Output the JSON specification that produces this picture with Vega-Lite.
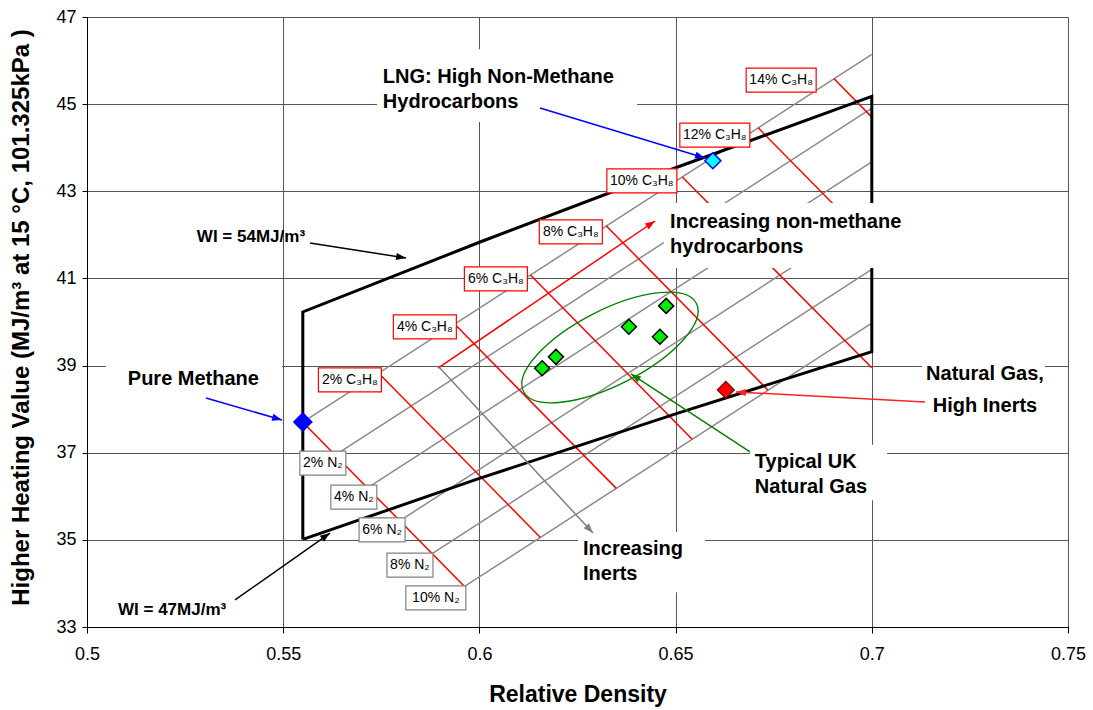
{
  "$schema": "https://vega.github.io/schema/vega-lite/v6.json",
  "width": 981,
  "height": 610,
  "autosize": {"type": "none"},
  "padding": {"left": 87, "top": 17, "right": 25, "bottom": 83},
  "background": "white",
  "config": {"view": {"stroke": null}, "font": "Liberation Sans"},
  "datasets": {
    "nLines": [
      {"series": "0% N2", "x": 0.555, "y": 37.7}, {"series": "0% N2", "x": 0.7, "y": 46.142},
      {"series": "2% N2", "x": 0.56324, "y": 36.946}, {"series": "2% N2", "x": 0.7, "y": 44.908},
      {"series": "4% N2", "x": 0.57148, "y": 36.192}, {"series": "4% N2", "x": 0.7, "y": 43.675},
      {"series": "6% N2", "x": 0.57972, "y": 35.438}, {"series": "6% N2", "x": 0.7, "y": 42.441},
      {"series": "8% N2", "x": 0.58796, "y": 34.684}, {"series": "8% N2", "x": 0.7, "y": 41.207},
      {"series": "10% N2", "x": 0.5962, "y": 33.93}, {"series": "10% N2", "x": 0.7, "y": 39.973}
    ],
    "pLines": [
      {"series": "0% C3H8", "x": 0.555, "y": 37.7}, {"series": "0% C3H8", "x": 0.5962, "y": 33.93},
      {"series": "2% C3H8", "x": 0.57434, "y": 38.826}, {"series": "2% C3H8", "x": 0.61554, "y": 35.056},
      {"series": "4% C3H8", "x": 0.59368, "y": 39.952}, {"series": "4% C3H8", "x": 0.63488, "y": 36.182},
      {"series": "6% C3H8", "x": 0.61302, "y": 41.078}, {"series": "6% C3H8", "x": 0.65422, "y": 37.308},
      {"series": "8% C3H8", "x": 0.63236, "y": 42.204}, {"series": "8% C3H8", "x": 0.67356, "y": 38.434},
      {"series": "10% C3H8", "x": 0.6517, "y": 43.33}, {"series": "10% C3H8", "x": 0.7, "y": 38.95},
      {"series": "12% C3H8", "x": 0.67104, "y": 44.456}, {"series": "12% C3H8", "x": 0.7, "y": 41.806},
      {"series": "14% C3H8", "x": 0.69038, "y": 45.582}, {"series": "14% C3H8", "x": 0.7, "y": 44.702}
    ],
    "boundary": [
      {"order": 1, "x": 0.555, "y": 35.01},
      {"order": 2, "x": 0.555, "y": 40.23},
      {"order": 3, "x": 0.6, "y": 41.83},
      {"order": 4, "x": 0.65, "y": 43.54},
      {"order": 5, "x": 0.7, "y": 45.18},
      {"order": 6, "x": 0.7, "y": 39.32},
      {"order": 7, "x": 0.65, "y": 37.89},
      {"order": 8, "x": 0.6, "y": 36.41},
      {"order": 9, "x": 0.555, "y": 35.01}
    ],
    "ellipse": [{"x": 0.63328, "y": 39.415}],
    "boxes": [
      {"box": "lng", "x": 0.5739, "x2": 0.6402, "y": 46.26, "y2": 44.59},
      {"box": "nmhc", "x": 0.647, "x2": 0.7085, "y": 42.73, "y2": 41.24},
      {"box": "inerts", "x": 0.6251, "x2": 0.6575, "y": 35.18, "y2": 33.8},
      {"box": "uk", "x": 0.669, "x2": 0.7039, "y": 37.18, "y2": 35.91},
      {"box": "highinerts", "x": 0.7128, "x2": 0.7441, "y": 39.36, "y2": 37.57},
      {"box": "methane", "x": 0.5048, "x2": 0.5497, "y": 39.17, "y2": 38.32}
    ],
    "arrows": [
      {"arrow": "lng", "x": 0.61544, "y": 44.912, "x2": 0.65749, "y2": 43.764},
      {"arrow": "methane", "x": 0.53033, "y": 38.256, "x2": 0.54969, "y2": 37.751},
      {"arrow": "wi54", "x": 0.55683, "y": 41.813, "x2": 0.5813, "y2": 41.469},
      {"arrow": "wi47", "x": 0.53772, "y": 33.62, "x2": 0.56193, "y2": 35.157},
      {"arrow": "nmhc", "x": 0.58945, "y": 38.944, "x2": 0.64475, "y2": 42.318},
      {"arrow": "inerts", "x": 0.5897, "y": 38.967, "x2": 0.62895, "y2": 35.157},
      {"arrow": "uk", "x": 0.66896, "y": 37.017, "x2": 0.63863, "y2": 38.807},
      {"arrow": "highinerts", "x": 0.71356, "y": 38.164, "x2": 0.66539, "y2": 38.394}
    ],
    "points": [
      {"kind": "methane", "name": "Pure Methane", "x": 0.555, "y": 37.705},
      {"kind": "lng", "name": "LNG", "x": 0.6595, "y": 43.7},
      {"kind": "highinerts", "name": "Natural Gas, High Inerts", "x": 0.6628, "y": 38.44},
      {"kind": "uk", "name": "UK gas 1", "x": 0.616, "y": 38.94},
      {"kind": "uk", "name": "UK gas 2", "x": 0.6195, "y": 39.2},
      {"kind": "uk", "name": "UK gas 3", "x": 0.6381, "y": 39.89},
      {"kind": "uk", "name": "UK gas 4", "x": 0.646, "y": 39.66},
      {"kind": "uk", "name": "UK gas 5", "x": 0.6476, "y": 40.37}
    ],
    "pLabels": [
      {"pct": 2, "label": "2% C₃H₈", "x": 0.567, "y": 38.67},
      {"pct": 4, "label": "4% C₃H₈", "x": 0.5861, "y": 39.89},
      {"pct": 6, "label": "6% C₃H₈", "x": 0.6042, "y": 40.99},
      {"pct": 8, "label": "8% C₃H₈", "x": 0.6233, "y": 42.07},
      {"pct": 10, "label": "10% C₃H₈", "x": 0.6414, "y": 43.24},
      {"pct": 12, "label": "12% C₃H₈", "x": 0.66, "y": 44.29},
      {"pct": 14, "label": "14% C₃H₈", "x": 0.6769, "y": 45.55}
    ],
    "nLabels": [
      {"pct": 2, "label": "2% N₂", "x": 0.5601, "y": 36.76},
      {"pct": 4, "label": "4% N₂", "x": 0.568, "y": 35.98},
      {"pct": 6, "label": "6% N₂", "x": 0.5752, "y": 35.23},
      {"pct": 8, "label": "8% N₂", "x": 0.5823, "y": 34.42},
      {"pct": 10, "label": "10% N₂", "x": 0.5889, "y": 33.67}
    ],
    "notes": [
      {"text": "LNG: High Non-Methane\nHydrocarbons", "x": 0.5754, "y": 45.486},
      {"text": "Increasing non-methane\nhydrocarbons", "x": 0.6486, "y": 42.158},
      {"text": "Increasing\nInerts", "x": 0.6264, "y": 34.653},
      {"text": "Typical UK\nNatural Gas", "x": 0.6702, "y": 36.649},
      {"text": "Pure Methane", "x": 0.5104, "y": 38.554}
    ],
    "notesCentered": [
      {"text": "Natural Gas,\nHigh Inerts", "x": 0.72885, "y": 38.67}
    ],
    "wiNotes": [
      {"text": "WI = 54MJ/m³", "x": 0.528, "y": 41.836},
      {"text": "WI = 47MJ/m³", "x": 0.5079, "y": 33.275}
    ]
  },
  "encoding": {
    "x": {
      "field": "x", "type": "quantitative", "title": "Relative Density",
      "scale": {"domain": [0.5, 0.75], "nice": false, "zero": false},
      "axis": {
        "values": [0.5, 0.55, 0.6, 0.65, 0.7, 0.75], "format": "~g",
        "grid": true, "gridColor": "#555555", "gridWidth": 1,
        "domainColor": "#000000", "tickColor": "#000000", "tickSize": 6,
        "labelFont": "Liberation Sans", "labelFontSize": 18, "labelColor": "#000000",
        "labelPadding": 12, "labelFlush": false, "labelOverlap": false,
        "titleFont": "Liberation Sans", "titleFontSize": 23, "titleFontWeight": "bold", "titleColor": "#000000",
        "titleX": 490.5, "titleY": 74, "titleBaseline": "alphabetic", "titleAlign": "center"
      }
    },
    "y": {
      "field": "y", "type": "quantitative", "title": "Higher Heating Value (MJ/m³ at 15 °C, 101.325kPa )",
      "scale": {"domain": [33, 47], "nice": false, "zero": false},
      "axis": {
        "values": [33, 35, 37, 39, 41, 43, 45, 47], "format": "d",
        "grid": true, "gridColor": "#555555", "gridWidth": 1,
        "domainColor": "#000000", "tickColor": "#000000", "tickSize": 5,
        "labelFont": "Liberation Sans", "labelFontSize": 18, "labelColor": "#000000",
        "labelPadding": 6, "labelOverlap": false,
        "titleFont": "Liberation Sans", "titleFontSize": 24, "titleFontWeight": "bold", "titleColor": "#000000",
        "titleAngle": -90, "titleX": -66, "titleY": 300, "titleBaseline": "middle", "titleAlign": "center"
      }
    }
  },
  "layer": [
    {
      "data": {"name": "nLines"},
      "mark": {"type": "line", "stroke": "#8a8a8a", "strokeWidth": 1.5},
      "encoding": {"detail": {"field": "series"}}
    },
    {
      "data": {"name": "pLines"},
      "mark": {"type": "line", "stroke": "#ff0000", "strokeWidth": 1.5},
      "encoding": {"detail": {"field": "series"}}
    },
    {
      "data": {"name": "boundary"},
      "mark": {"type": "line", "stroke": "#000000", "strokeWidth": 3},
      "encoding": {"order": {"field": "order", "type": "quantitative"}}
    },
    {
      "data": {"name": "ellipse"},
      "mark": {
        "type": "point", "filled": false, "stroke": "#008000", "strokeWidth": 1.3, "opacity": 1,
        "size": 37636, "angle": -27,
        "shape": "M-1,0C-1,-0.2135 -0.5523,-0.3866 0,-0.3866C0.5523,-0.3866 1,-0.2135 1,0C1,0.2135 0.5523,0.3866 0,0.3866C-0.5523,0.3866 -1,0.2135 -1,0Z"
      }
    },
    {
      "data": {"name": "boxes"},
      "mark": {"type": "rect", "fill": "white", "stroke": null},
      "encoding": {"x2": {"field": "x2"}, "y2": {"field": "y2"}}
    },
    {
      "data": {"name": "arrows"},
      "mark": {"type": "rule", "strokeWidth": 1.5},
      "encoding": {
        "x2": {"field": "x2"}, "y2": {"field": "y2"},
        "color": {
          "field": "arrow", "type": "nominal", "legend": null,
          "scale": {
            "domain": ["lng", "methane", "wi54", "wi47", "nmhc", "inerts", "uk", "highinerts"],
            "range": ["#0000ff", "#0000ff", "#000000", "#000000", "#ff0000", "#808080", "#008000", "#ff2020"]
          }
        }
      }
    },
    {
      "data": {"name": "arrows"},
      "mark": {"type": "point", "filled": true, "opacity": 1, "size": 81, "shape": "M0,0L-2.2,-0.8L-2.2,0.8Z"},
      "encoding": {
        "x": {"field": "x2", "type": "quantitative", "title": "Relative Density"},
        "y": {"field": "y2", "type": "quantitative", "title": "Higher Heating Value (MJ/m³ at 15 °C, 101.325kPa )"},
        "color": {
          "field": "arrow", "type": "nominal", "legend": null,
          "scale": {
            "domain": ["lng", "methane", "wi54", "wi47", "nmhc", "inerts", "uk", "highinerts"],
            "range": ["#0000ff", "#0000ff", "#000000", "#000000", "#ff0000", "#808080", "#008000", "#ff2020"]
          }
        },
        "angle": {
          "field": "arrow", "type": "nominal", "legend": null,
          "scale": {
            "type": "ordinal",
            "domain": ["lng", "methane", "wi54", "wi47", "nmhc", "inerts", "uk", "highinerts"],
            "range": [16.9, 16.1, 8.9, -35.2, -34.1, 47.2, 213.2, 183.0]
          }
        }
      }
    },
    {
      "data": {"name": "points"},
      "transform": [{"filter": {"field": "kind", "equal": "uk"}}],
      "mark": {"type": "point", "shape": "diamond", "filled": true, "fill": "#00ee00", "stroke": "#000000", "strokeWidth": 1.5, "opacity": 1, "size": 225}
    },
    {
      "data": {"name": "points"},
      "transform": [{"filter": {"field": "kind", "equal": "methane"}}],
      "mark": {"type": "point", "shape": "diamond", "filled": true, "fill": "#0000ff", "stroke": "#0000ff", "strokeWidth": 1.5, "opacity": 1, "size": 324}
    },
    {
      "data": {"name": "points"},
      "transform": [{"filter": {"field": "kind", "equal": "lng"}}],
      "mark": {"type": "point", "shape": "diamond", "filled": true, "fill": "#00ffff", "stroke": "#0000ff", "strokeWidth": 1.5, "opacity": 1, "size": 256}
    },
    {
      "data": {"name": "points"},
      "transform": [{"filter": {"field": "kind", "equal": "highinerts"}}],
      "mark": {"type": "point", "shape": "diamond", "filled": true, "fill": "#ff0000", "stroke": "#800000", "strokeWidth": 1.2, "opacity": 1, "size": 289}
    },
    {
      "data": {"name": "pLabels"},
      "transform": [{"filter": {"field": "pct", "lt": 10}}],
      "mark": {"type": "point", "filled": true, "fill": "white", "stroke": "#ff0000", "strokeWidth": 1.2, "opacity": 1, "size": 3969, "shape": "M-1,-0.381L1,-0.381L1,0.381L-1,0.381Z"}
    },
    {
      "data": {"name": "pLabels"},
      "transform": [{"filter": {"field": "pct", "gte": 10}}],
      "mark": {"type": "point", "filled": true, "fill": "white", "stroke": "#ff0000", "strokeWidth": 1.2, "opacity": 1, "size": 4900, "shape": "M-1,-0.343L1,-0.343L1,0.343L-1,0.343Z"}
    },
    {
      "data": {"name": "nLabels"},
      "transform": [{"filter": {"field": "pct", "lt": 10}}],
      "mark": {"type": "point", "filled": true, "fill": "white", "stroke": "#808080", "strokeWidth": 1.2, "opacity": 1, "size": 2116, "shape": "M-1,-0.522L1,-0.522L1,0.522L-1,0.522Z"}
    },
    {
      "data": {"name": "nLabels"},
      "transform": [{"filter": {"field": "pct", "gte": 10}}],
      "mark": {"type": "point", "filled": true, "fill": "white", "stroke": "#808080", "strokeWidth": 1.2, "opacity": 1, "size": 3600, "shape": "M-1,-0.4L1,-0.4L1,0.4L-1,0.4Z"}
    },
    {
      "data": {"name": "pLabels"},
      "mark": {"type": "text", "font": "Liberation Sans", "fontSize": 14, "color": "#000000", "align": "center", "baseline": "middle"},
      "encoding": {"text": {"field": "label"}}
    },
    {
      "data": {"name": "nLabels"},
      "mark": {"type": "text", "font": "Liberation Sans", "fontSize": 14, "color": "#000000", "align": "center", "baseline": "middle"},
      "encoding": {"text": {"field": "label"}}
    },
    {
      "data": {"name": "notes"},
      "mark": {"type": "text", "font": "Liberation Sans", "fontSize": 20, "fontWeight": "bold", "color": "#000000", "align": "left", "baseline": "alphabetic", "lineBreak": "\n", "lineHeight": 25},
      "encoding": {"text": {"field": "text"}}
    },
    {
      "data": {"name": "notesCentered"},
      "mark": {"type": "text", "font": "Liberation Sans", "fontSize": 20, "fontWeight": "bold", "color": "#000000", "align": "center", "baseline": "alphabetic", "lineBreak": "\n", "lineHeight": 32},
      "encoding": {"text": {"field": "text"}}
    },
    {
      "data": {"name": "wiNotes"},
      "mark": {"type": "text", "font": "Liberation Sans", "fontSize": 17, "fontWeight": "bold", "color": "#000000", "align": "left", "baseline": "alphabetic"},
      "encoding": {"text": {"field": "text"}}
    }
  ]
}
